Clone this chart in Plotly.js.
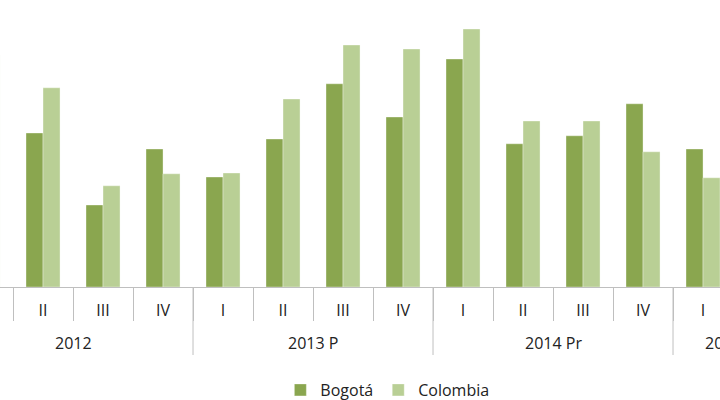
<!DOCTYPE html>
<html><head><meta charset="utf-8">
<script src="https://cdn.plot.ly/plotly-3.0.1.min.js"></script>
<style>html,body{margin:0;padding:0;background:#fff}#c{width:720px;height:400px}</style>
</head><body><div id="c"></div>
<script>
const years    = ["2012","2012","2012","2012","2013 P","2013 P","2013 P","2013 P","2014 Pr","2014 Pr","2014 Pr","2014 Pr","2015 Pr","2015 Pr"];
const quarters = ["I","II","III","IV","I","II","III","IV","I","II","III","IV","I","II"];
const bogota   = [null,3.85,2.05,3.45,2.75,3.70,5.08,4.25,5.70,3.58,3.78,4.58,3.45,null];
const colombia = [5.80,4.98,2.53,2.83,2.85,4.70,6.05,5.95,6.45,4.15,4.15,3.38,2.73,null];

// derived helpers (from the arrays above)
const cats = years.map((y,i)=>y+" · "+quarters[i]);
const xr = [0.283, 12.283];
const groups = [];
years.forEach((y,i)=>{ if(!groups.length || groups[groups.length-1].name!==y) groups.push({name:y,start:i,end:i}); else groups[groups.length-1].end=i; });
const gBounds = groups.map(g=>g.start-0.5).concat([groups[groups.length-1].end+0.5]);
const toPaper = v => (v-xr[0])/(xr[1]-xr[0]);

const font = {family:"Open Sans, sans-serif", size:16, color:"#222"};
const grey = "#BFBFBF";
const data = [
  {type:"bar", name:"Bogotá", x:cats, y:bogota,
   marker:{color:"#8AA64F", line:{color:"rgba(255,255,255,0.35)", width:1}}},
  {type:"bar", name:"Colombia", x:cats, y:colombia,
   marker:{color:"#B9CF95", line:{color:"rgba(255,255,255,0.35)", width:1}}}
];
const layout = {
  width:720, height:400, margin:{l:0,r:0,t:0,b:113},
  paper_bgcolor:"#fff", plot_bgcolor:"#fff",
  barmode:"group", bargap:0.433, bargroupgap:0,
  font:font, showlegend:true,
  legend:{orientation:"h", x:0.538, xanchor:"center", yref:"container", y:0.025, yanchor:"middle",
          font:font, itemwidth:30, tracegroupgap:0, bgcolor:"rgba(0,0,0,0)"},
  xaxis:{type:"category", range:xr, automargin:false, showline:true, linecolor:grey, linewidth:1,
         tickmode:"array", tickvals:cats, ticktext:quarters,
         ticks:"outside", tickson:"boundaries", ticklen:33, tickcolor:grey, tickwidth:1,
         ticklabelstandoff:9, tickfont:font, showgrid:false, zeroline:false},
  yaxis:{range:[0,7.175], visible:false, showgrid:false, zeroline:false, fixedrange:true},
  shapes: gBounds.map(b=>({type:"line", xref:"x", yref:"paper", x0:b, x1:b, y0:0, y1:-68/287,
      line:{color:grey, width:1}, layer:"below"})),
  annotations: groups.map(g=>({xref:"paper", yref:"paper", x:toPaper((g.start+g.end)/2), y:-0.195,
      xanchor:"center", yanchor:"middle", text:g.name, showarrow:false, font:font}))
};
Plotly.newPlot("c", data, layout, {staticPlot:true, displayModeBar:false});
</script></body></html>
